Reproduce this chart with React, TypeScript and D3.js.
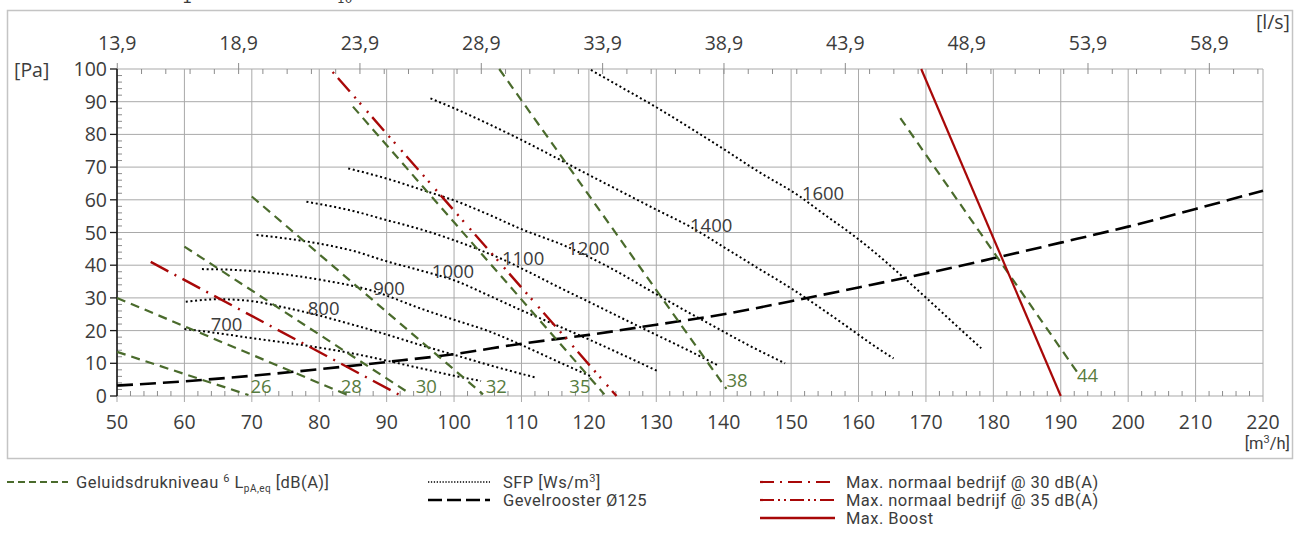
import { useEffect, useRef } from "react";
import * as d3 from "d3";

const WIDTH = 1299;
const HEIGHT = 540;

type Pt = [number, number];

// axis ticks
const flowTicks = d3.range(50, 221, 10); // m3/h
const paTicks = d3.range(0, 101, 10); // Pa
const lsTicks = [13.9, 18.9, 23.9, 28.9, 33.9, 38.9, 43.9, 48.9, 53.9, 58.9]; // l/s

// Geluidsdrukniveau lines [m3/h, Pa]
const dbLabels = [26, 28, 30, 32, 35, 38, 44];
const dbLines: Pt[][] = [
  [[50, 13.5], [69.5, 0.3]],
  [[50, 30], [84.2, 0.3]],
  [[60, 45.7], [93.4, 0.8]],
  [[70, 61], [104.3, 0.5]],
  [[85, 88.5], [122.3, 0.5]],
  [[106.7, 100], [140.4, 2.2]],
  [[166.2, 85], [192.4, 7.4]],
];
const dbLabelAt: Pt[] = [
  [69.8, 0.9], [83.2, 0.9], [94.3, 0.9], [104.7, 0.8], [117.1, 0.8], [140.4, 2.6], [192.4, 4.3],
];

// SFP curves [m3/h, Pa]
const sfpLabels = [700, 800, 900, 1000, 1100, 1200, 1400, 1600];
const sfp700: Pt[] = [[60, 20.5], [65, 19.2], [70, 17.7], [75, 16.3], [80, 14.8], [85, 13.0], [90, 10.8], [95, 8.5], [100, 6.2], [104, 4.6]];
const sfp800: Pt[] = [[60.2, 28.8], [65, 29.6], [70, 29.0], [75, 27.0], [80, 24.6], [85, 21.8], [90, 18.8], [95, 15.6], [100, 12.6], [106, 9.0], [112, 5.7]];
const sfp900: Pt[] = [[62.6, 38.8], [67, 38.6], [72.7, 37.7], [80, 35.6], [87.5, 32.4], [95.4, 26.5], [100, 23.3], [105.3, 19.7], [110, 15.6], [115, 10.9], [120.2, 6.1]];
const sfp1000: Pt[] = [[70.7, 49.2], [75, 48.2], [80, 46.6], [85, 44.4], [90, 41.2], [95, 38.4], [100, 35.4], [105.3, 30.6], [110, 26.2], [115, 21.8], [120, 17.3], [125, 12.6], [130.1, 7.7]];
const sfp1100: Pt[] = [[78.1, 59.4], [85, 56.6], [90, 53.8], [95, 51.0], [99.9, 47.7], [104, 44.5], [107.3, 41.7], [111, 38.0], [115.7, 33.1], [120, 28.8], [125, 23.7], [130, 18.7], [135, 13.7], [139.2, 9.3]];
const sfp1200: Pt[] = [[84.3, 69.6], [90, 66.5], [95, 63.2], [99.9, 59.9], [105, 55.6], [109.8, 51.2], [116.7, 45.7], [122.6, 39.8], [130.6, 30.4], [135, 25.3], [139.5, 20.2], [144, 15.2], [149.1, 10.0]];
const sfp1400: Pt[] = [[96.5, 91], [100, 88], [105, 83.3], [110, 78.3], [115, 73], [120, 67.6], [125, 62.3], [130, 57], [135, 51.8], [140.5, 44.9], [145, 39.2], [150.4, 32.4], [155, 26], [158.8, 20.5], [162, 15.8], [165.2, 11.5]];
const sfp1600: Pt[] = [[120.3, 99.7], [125, 94.2], [130, 88.3], [135, 82], [140, 75.5], [145, 68.8], [151.3, 61], [155, 55.4], [158.8, 49.8], [162, 44.6], [166, 37.5], [170.1, 29.9], [174, 22.5], [178.2, 14.6]];
const sfpCurves = [sfp700, sfp800, sfp900, sfp1000, sfp1100, sfp1200, sfp1400, sfp1600];
const sfpLabelAt: Pt[] = [
  [63.9, 19.9], [78.3, 24.8], [88, 30.9], [96.7, 36.1], [107.1, 40.1], [116.8, 43.1], [135, 50.2], [151.6, 59.9],
];

// Gevelrooster 125
const gevelFlow = d3.range(50, 221, 10);
const gevelPa = [3.2, 4.5, 6.2, 8.2, 10.4, 12.8, 16.0, 18.7, 21.8, 25.0, 29.0, 33.2, 37.5, 42.1, 46.9, 51.8, 57.2, 62.8];

// max operating lines
const max30: Pt[] = [[55, 41], [92.2, 0]];
const max35: Pt[] = [[81.6, 100], [124.1, 0]];
const maxBoost: Pt[] = [[169.3, 100], [190, 0]];

const GREEN = "#4a6b2c";
const GREEN_TXT = "#587c40";
const RED = "#a80808";
const TXT = "#3c3c3c";
const GRID = "#a9a9a9";
const TICK_FONT = "'Open Sans', 'DejaVu Sans', sans-serif";
const LEG_FONT = "'Liberation Sans Narrow', 'Roboto', sans-serif";

function draw(el: SVGSVGElement) {
  const svg = d3.select(el);
  svg.selectAll("*").remove();

  const x = d3.scaleLinear().domain([50, 220]).range([117, 1263]);
  const y = d3.scaleLinear().domain([0, 100]).range([396, 69]);
  const xLs = (ls: number) => x(ls * 3.6);

  // cut off caption at the very top
  svg.append("text").attr("x", 182).attr("y", 3).attr("font-family", "'DejaVu Sans', sans-serif")
    .attr("font-size", 16).attr("fill", TXT).text("1");
  svg.append("text").attr("x", 337).attr("y", 3).attr("font-family", "'DejaVu Sans', sans-serif")
    .attr("font-size", 12).attr("fill", TXT).text("10");

  // outer frame
  svg.append("rect").attr("x", 7.5).attr("y", 10.5).attr("width", 1285).attr("height", 448)
    .attr("fill", "none").attr("stroke", "#c4c4c4").attr("stroke-width", 1.5);

  // grid
  const grid = svg.append("g").attr("stroke", GRID).attr("stroke-width", 1);
  grid.selectAll("line.v").data(flowTicks).join("line")
    .attr("x1", (d) => x(d)).attr("x2", (d) => x(d))
    .attr("y1", y(100)).attr("y2", y(0) + 6);
  grid.selectAll("line.h").data(paTicks).join("line").attr("class", "h")
    .attr("x1", x(50)).attr("x2", x(220))
    .attr("y1", (d) => y(d)).attr("y2", (d) => y(d));

  // minor ticks
  const minor = svg.append("g").attr("stroke", "#8c8c8c").attr("stroke-width", 1);
  minor.selectAll("line.b").data(d3.range(52, 220, 2).filter((d) => d % 10 !== 0)).join("line")
    .attr("x1", (d) => x(d)).attr("x2", (d) => x(d)).attr("y1", y(0)).attr("y2", y(0) - 5);
  minor.selectAll("line.l").data(d3.range(2, 100, 2).filter((d) => d % 10 !== 0)).join("line").attr("class", "l")
    .attr("x1", x(50)).attr("x2", x(50) + 5).attr("y1", (d) => y(d)).attr("y2", (d) => y(d));
  minor.selectAll("line.t").data(d3.range(14.9, 61, 1)).join("line").attr("class", "t")
    .attr("x1", (d) => xLs(d)).attr("x2", (d) => xLs(d)).attr("y1", y(100)).attr("y2", y(100) + 5);
  minor.selectAll("line.tm").data(lsTicks).join("line").attr("class", "tm")
    .attr("x1", (d) => xLs(d)).attr("x2", (d) => xLs(d)).attr("y1", y(100)).attr("y2", y(100) - 6);

  // left axis
  const left = svg.append("g").attr("stroke", "#1a1a1a");
  left.append("line").attr("x1", x(50)).attr("x2", x(50)).attr("y1", y(100)).attr("y2", y(0)).attr("stroke-width", 1.6);
  left.selectAll("line.m").data(paTicks).join("line").attr("class", "m")
    .attr("x1", x(50) - 7).attr("x2", x(50)).attr("y1", (d) => y(d)).attr("y2", (d) => y(d)).attr("stroke-width", 1.3);

  // tick labels
  const lab = svg.append("g").attr("font-family", TICK_FONT).attr("font-size", 19.5).attr("fill", TXT);
  lab.selectAll("text.x").data(flowTicks).join("text")
    .attr("x", (d) => x(d)).attr("y", 429).attr("text-anchor", "middle").text((d) => d);
  lab.selectAll("text.y").data(paTicks).join("text").attr("class", "y")
    .attr("x", x(50) - 10).attr("y", (d) => y(d) + 7).attr("text-anchor", "end").text((d) => d);
  lab.selectAll("text.t").data(lsTicks).join("text").attr("class", "t")
    .attr("x", (d) => xLs(d)).attr("y", 50).attr("text-anchor", "middle")
    .text((d) => d.toFixed(1).replace(".", ","));
  lab.append("text").attr("x", 14).attr("y", 77).text("[Pa]");
  lab.append("text").attr("x", 1290).attr("y", 29).attr("text-anchor", "end").text("[l/s]");
  const mh = lab.append("text").attr("x", 1290).attr("y", 449).attr("text-anchor", "end")
    .attr("font-family", LEG_FONT).attr("font-size", 16.5);
  mh.append("tspan").text("[m");
  mh.append("tspan").attr("font-size", 11).attr("dy", -6).text("3");
  mh.append("tspan").attr("dy", 6).text("/h]");

  const straight = d3.line<Pt>().x((d) => x(d[0])).y((d) => y(d[1]));
  const smooth = d3.line<Pt>().x((d) => x(d[0])).y((d) => y(d[1])).curve(d3.curveMonotoneX);

  // SFP
  svg.append("g").selectAll("path").data(sfpCurves).join("path")
    .attr("d", (d) => smooth(d)).attr("fill", "none").attr("stroke", "#000")
    .attr("stroke-width", 2).attr("stroke-dasharray", "2 2.7");
  svg.append("g").attr("font-family", TICK_FONT).attr("font-size", 18.5).attr("fill", TXT)
    .selectAll("text").data(sfpLabels).join("text")
    .attr("x", (_, i) => x(sfpLabelAt[i][0])).attr("y", (_, i) => y(sfpLabelAt[i][1]))
    .text((d) => d);

  // gevelrooster
  const gevel: Pt[] = gevelFlow.map((f, i) => [f, gevelPa[i]]);
  svg.append("path").attr("d", smooth(gevel)).attr("fill", "none").attr("stroke", "#000")
    .attr("stroke-width", 2.6).attr("stroke-dasharray", "16 7");

  // geluidsdrukniveau
  svg.append("g").selectAll("path").data(dbLines).join("path")
    .attr("d", (d) => straight(d)).attr("fill", "none").attr("stroke", GREEN)
    .attr("stroke-width", 2.2).attr("stroke-dasharray", "9 6");
  svg.append("g").attr("font-family", TICK_FONT).attr("font-size", 18.5).attr("fill", GREEN_TXT)
    .selectAll("text").data(dbLabels).join("text")
    .attr("x", (_, i) => x(dbLabelAt[i][0])).attr("y", (_, i) => y(dbLabelAt[i][1]))
    .text((d) => d);

  // max lines
  svg.append("path").attr("d", straight(max30)).attr("stroke", RED).attr("stroke-width", 2.4)
    .attr("stroke-dasharray", "20 7 2 7").attr("fill", "none");
  svg.append("path").attr("d", straight(max35)).attr("stroke", RED).attr("stroke-width", 2.4)
    .attr("stroke-dasharray", "0 4 2 6 18 7 2 6 2 5").attr("fill", "none");
  svg.append("path").attr("d", straight(maxBoost)).attr("stroke", RED).attr("stroke-width", 2.2)
    .attr("fill", "none");

  // legend
  const leg = svg.append("g").attr("font-family", LEG_FONT).attr("font-size", 16.5)
    .attr("letter-spacing", 0.45).attr("fill", TXT);
  const sample = (x1: number, x2: number, yy: number, color: string, w: number, dash: string | null) =>
    leg.append("line").attr("x1", x1).attr("x2", x2).attr("y1", yy).attr("y2", yy)
      .attr("stroke", color).attr("stroke-width", w).attr("stroke-dasharray", dash);
  const rows = [482, 500, 518];

  sample(7, 68, rows[0], GREEN, 2, "7 4");
  const g1 = leg.append("text").attr("x", 76).attr("y", rows[0] + 6);
  g1.append("tspan").text("Geluidsdrukniveau ");
  g1.append("tspan").attr("font-size", 11).attr("dy", -6).text("6");
  g1.append("tspan").attr("dy", 6).text(" L");
  g1.append("tspan").attr("font-size", 10).attr("dy", 4).text("pA,eq");
  g1.append("tspan").attr("dy", -4).text(" [dB(A)]");

  sample(428, 490, rows[0], "#000", 1.6, "1.3 1.6");
  const s1 = leg.append("text").attr("x", 503).attr("y", rows[0] + 6);
  s1.append("tspan").text("SFP [Ws/m");
  s1.append("tspan").attr("font-size", 11).attr("dy", -6).text("3");
  s1.append("tspan").attr("dy", 6).text("]");
  sample(428, 490, rows[1], "#000", 2.5, "14 5");
  leg.append("text").attr("x", 503).attr("y", rows[1] + 6).text("Gevelrooster Ø125");

  sample(760, 835, rows[0], RED, 2.2, "14 6 2 6");
  leg.append("text").attr("x", 846).attr("y", rows[0] + 6).text("Max. normaal bedrijf @ 30 dB(A)");
  sample(760, 835, rows[1], RED, 2.2, "14 4 2 4 2 4");
  leg.append("text").attr("x", 846).attr("y", rows[1] + 6).text("Max. normaal bedrijf @ 35 dB(A)");
  sample(760, 835, rows[2], RED, 2.4, null);
  leg.append("text").attr("x", 846).attr("y", rows[2] + 6).text("Max. Boost");
}

export default function App() {
  const ref = useRef<SVGSVGElement>(null);
  useEffect(() => {
    if (ref.current) draw(ref.current);
  }, []);
  return (
    <svg
      ref={ref}
      width={WIDTH}
      height={HEIGHT}
      style={{ position: "absolute", left: 0, top: 0, background: "#fff" }}
    />
  );
}
